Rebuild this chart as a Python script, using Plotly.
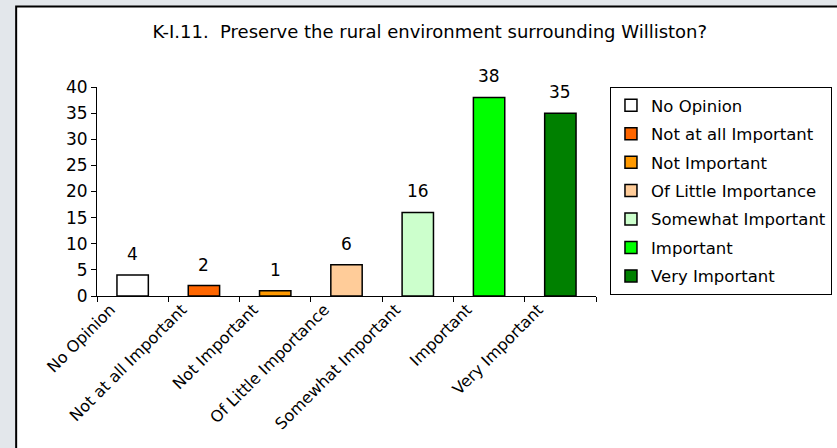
import plotly.graph_objects as go

# survey answers for K-I.11
categories = ['No Opinion', 'Not at all Important', 'Not Important', 'Of Little Importance',
              'Somewhat Important', 'Important', 'Very Important']
counts = [4, 2, 1, 6, 16, 38, 35]
colors = ['#FFFFFF', '#FF6600', '#FF9900', '#FFCC99', '#CCFFCC', '#00FF00', '#008000']
y_ticks = [0, 5, 10, 15, 20, 25, 30, 35, 40]

FONT = 'DejaVu Sans, sans-serif'

fig = go.Figure()
for i, (cat, val, col) in enumerate(zip(categories, counts, colors)):
    fig.add_trace(go.Bar(
        x=[cat], y=[val], name=cat,
        marker=dict(color=col, line=dict(color='black', width=1.5)),
        legendgroup=f'g{i}',
        width=0.44,
    ))
    fig.add_annotation(x=cat, y=val, text=str(val), showarrow=False,
                       yanchor='bottom', yshift=9,
                       font=dict(family=FONT, size=17, color='black'))

# white panel with dark border on the grey page
fig.add_shape(type='rect', xref='paper', yref='paper',
              x0=-0.162, x1=1.55, y0=-0.8, y1=1.385,
              fillcolor='white', line=dict(color='black', width=2), layer='below')

fig.update_layout(
    width=837, height=448,
    margin=dict(l=97, r=241, t=87, b=152, autoexpand=False),
    paper_bgcolor='#E3E7EB',
    plot_bgcolor='rgba(0,0,0,0)',
    font=dict(family=FONT, size=17, color='black'),
    title=dict(text='K-I.11.  Preserve the rural environment surrounding Williston?',
               x=0.667, xref='paper', xanchor='center', y=0.93, yanchor='middle',
               font=dict(family=FONT, size=18)),
    showlegend=True,
    barmode='overlay',
    legend=dict(x=1.028, y=1.0, xanchor='left', yanchor='top',
                bordercolor='black', borderwidth=1, bgcolor='white',
                traceorder='grouped', tracegroupgap=4, maxheight=400,
                font=dict(family=FONT, size=16.5)),
    xaxis=dict(showline=True, linecolor='black', linewidth=1,
               ticks='outside', tickson='boundaries', ticklen=5, tickcolor='black',
               tickangle=-45, ticklabelshift=-22, ticklabelstandoff=-3,
               tickfont=dict(size=16), showgrid=False,
               categoryorder='array', categoryarray=categories),
    yaxis=dict(range=[0, 40], tickvals=y_ticks, showline=True, linecolor='black',
               linewidth=1, ticks='outside', ticklen=5, tickcolor='black',
               showgrid=False, zeroline=False),
)

# drop the page's default body margin so the figure sits at the window's corner
fig.write_html('out.html', config={'displayModeBar': False},
               post_script="document.body.style.margin='0';")
